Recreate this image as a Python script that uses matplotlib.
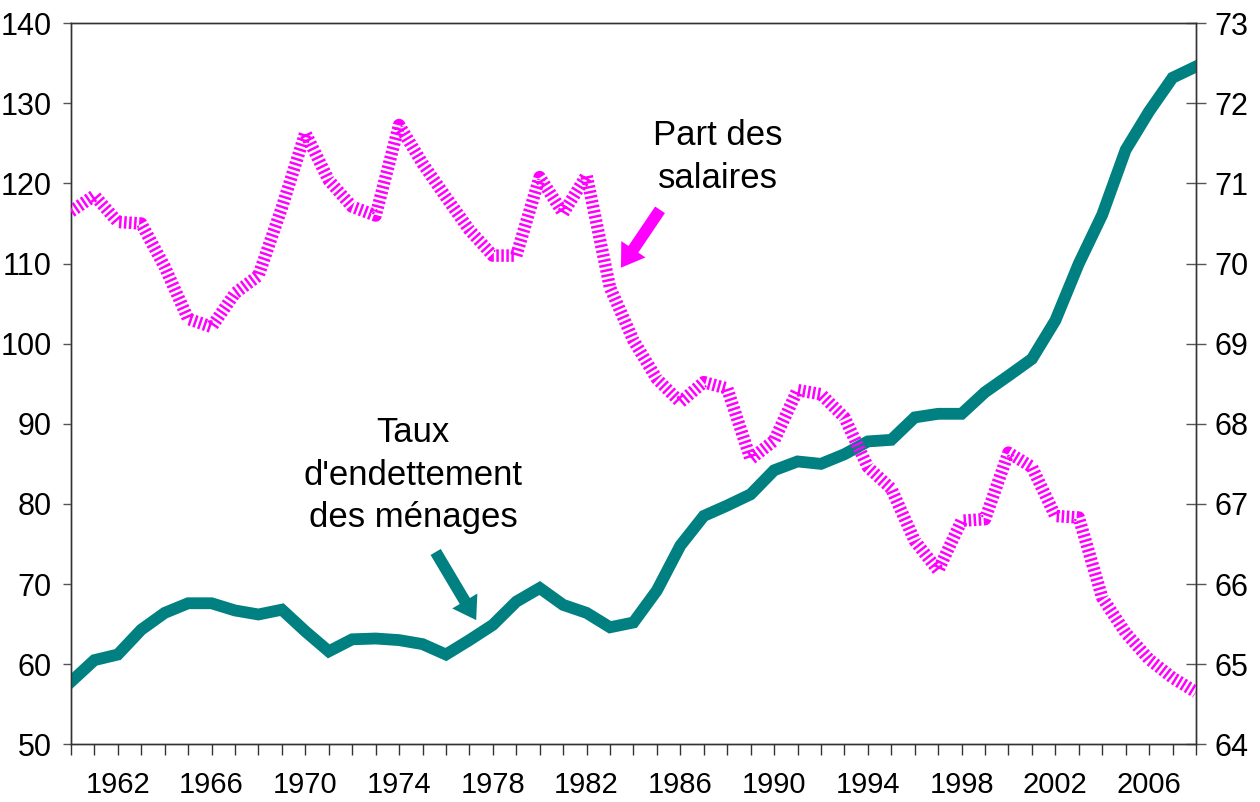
import matplotlib
matplotlib.use("Agg")
import matplotlib.pyplot as plt
from matplotlib import font_manager

years = list(range(1960, 2009))

# taux d'endettement des ménages (axe de gauche)
debt = [57.8, 60.5, 61.2, 64.3, 66.4, 67.6, 67.6, 66.7, 66.2, 66.8,
        64.1, 61.6, 63.1, 63.2, 63.0, 62.5, 61.2, 63.0, 64.9, 67.8,
        69.5, 67.4, 66.4, 64.6, 65.2, 69.2, 74.8, 78.5, 79.8, 81.2,
        84.2, 85.3, 85.0, 86.2, 87.8, 88.0, 90.8, 91.25, 91.25, 93.95,
        96.0, 98.1, 102.9, 110.0, 116.1, 124.2, 129.0, 133.2, 134.6]

# part des salaires (axe de droite)
wages = [70.65, 70.85, 70.52, 70.50, 69.96, 69.31, 69.21, 69.63, 69.85, 70.7,
         71.63, 71.04, 70.71, 70.60, 71.73, 71.25, 70.83, 70.42, 70.10, 70.10,
         71.08, 70.63, 71.10, 69.7, 69.04, 68.56, 68.27, 68.52, 68.44, 67.56,
         67.79, 68.42, 68.37, 68.08, 67.46, 67.19, 66.54, 66.17, 66.79, 66.81,
         67.64, 67.46, 66.85, 66.83, 65.83, 65.39, 65.06, 64.83, 64.65]

left_ticks = list(range(50, 141, 10))
right_ticks = list(range(64, 74))
year_labels = [str(y) if (y - 1962) % 4 == 0 else "" for y in years]

TEAL = "#008080"
MAGENTA = "#FF00FF"

installed = {f.name for f in font_manager.fontManager.ttflist}
NARROW = "Liberation Sans Narrow" if "Liberation Sans Narrow" in installed else "Liberation Sans"
plt.rcParams["font.family"] = ["Liberation Sans", "DejaVu Sans"]

fig = plt.figure(figsize=(12.6, 8.02), dpi=100)
ax = fig.add_axes([0.0563, 0.072, 0.8929, 0.899])
ax2 = ax.twinx()

ax.plot(years, debt, color=TEAL, lw=8.5, solid_joinstyle="miter", zorder=3)
ax2.plot(years, wages, color=MAGENTA, lw=9, linestyle=(0, (0.2, 0.2)),
         dash_capstyle="butt", zorder=3)

ax.set_xlim(1960, 2008)
ax.set_ylim(50, 140)
ax2.set_ylim(64, 73)
ax.set_yticks(left_ticks)
ax2.set_yticks(right_ticks)
ax.set_xticks(years)
ax.set_xticklabels(year_labels, fontfamily=NARROW, fontsize=21)

for s in list(ax.spines.values()) + list(ax2.spines.values()):
    s.set_color("#333333")
    s.set_linewidth(1)

ax.tick_params(axis="y", direction="out", length=6, width=1, color="#555555",
               labelsize=22, pad=8)
ax.tick_params(axis="x", direction="out", length=8, width=1, color="#333333",
               pad=11)
ax2.tick_params(axis="y", direction="inout", length=14, width=1, color="#555555",
                labelsize=22, pad=6)

arrow = "simple,head_length=1.6,head_width=2.1,tail_width=0.85"
ax.annotate("", xy=(1977.35, 65.2), xytext=(1975.5, 74.3),
            arrowprops=dict(arrowstyle=arrow, color=TEAL, lw=0), zorder=4)
ax.text(1974.6, 83.6, "Taux\nd'endettement\ndes ménages", ha="center", va="center",
        fontfamily=NARROW, fontsize=25, linespacing=1.38)

ax2.annotate("", xy=(1983.4, 69.92), xytext=(1985.2, 70.7),
             arrowprops=dict(arrowstyle=arrow, color=MAGENTA, lw=0), zorder=4)
ax2.text(1987.6, 71.33, "Part des\nsalaires", ha="center", va="center",
         fontfamily=NARROW, fontsize=25, linespacing=1.38)

fig.savefig("out.png", dpi=100)
